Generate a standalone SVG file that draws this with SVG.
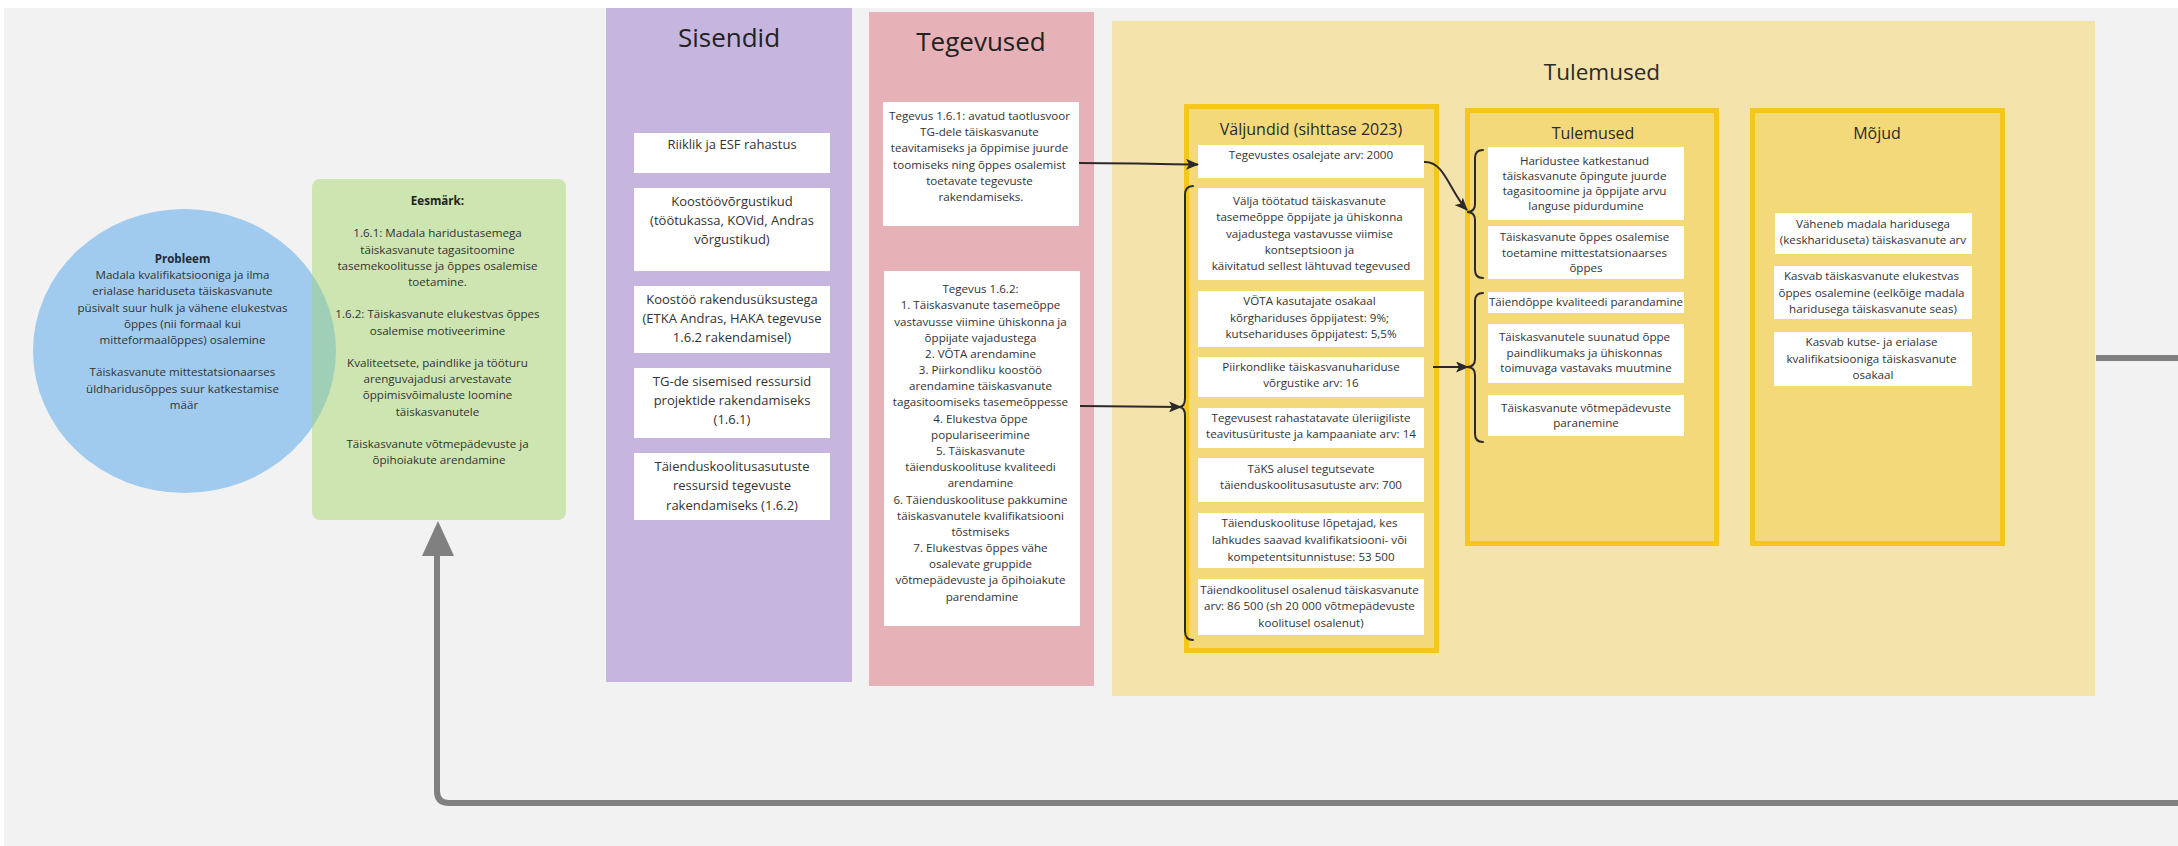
<svg xmlns="http://www.w3.org/2000/svg" width="2178" height="846" viewBox="0 0 2178 846">
  <style>
    text { font-family: "Open Sans", "Noto Sans", "Liberation Sans", sans-serif; fill: #333333; text-anchor: middle; }
    .t { font-size: 11.6px; }
    .s { font-size: 13px; }
    .h1 { font-size: 26px; fill: #222222; }
    .h2 { font-size: 16px; fill: #2a2a2a; }
    .h3 { font-size: 22.5px; fill: #2a2a2a; }
    .b { font-weight: bold; }
    .box { fill: #ffffff; }
    .col { fill: #f4d97b; stroke: #f5c71e; stroke-width: 5; }
    .link { fill: none; stroke: #2a2a2a; stroke-width: 2; }
    .brace { fill: none; stroke: #2a2a2a; stroke-width: 2; stroke-linecap: round; }
    .loop { fill: none; stroke: #808080; stroke-width: 6; }
  </style>
  <defs>
    <marker id="arrow" markerUnits="userSpaceOnUse" markerWidth="13" markerHeight="11" refX="12" refY="5.5" orient="auto">
      <path d="M0,0 L13,5.5 L0,11 L3,5.5 Z" fill="#2a2a2a"/>
    </marker>
    <clipPath id="goalClip">
      <rect x="312" y="179" width="254" height="341" rx="8"/>
    </clipPath>
  </defs>

  <!-- canvas -->
  <rect x="0" y="0" width="2178" height="846" fill="#ffffff"/>
  <rect x="4" y="8" width="2174" height="838" fill="#f2f2f2"/>

  <!-- problem -->
  <g id="problem">
    <ellipse cx="184.5" cy="351" rx="151.5" ry="142" fill="#a0cbee"/>
    <text class="t" x="184" y="263"><tspan class="b" fill="#1f2a36">Probleem</tspan>
      <tspan x="184" dy="16.2">Madala kvalifikatsiooniga ja ilma</tspan>
      <tspan x="184" dy="16.2">erialase hariduseta täiskasvanute</tspan>
      <tspan x="184" dy="16.2">püsivalt suur hulk ja vähene elukestvas</tspan>
      <tspan x="184" dy="16.2">õppes (nii formaal kui</tspan>
      <tspan x="184" dy="16.2">mitteformaalõppes) osalemine</tspan>
      <tspan x="184" dy="32.4">Täiskasvanute mittestatsionaarses</tspan>
      <tspan x="184" dy="16.2">üldharidusõppes suur katkestamise</tspan>
      <tspan x="184" dy="16.2">määr</tspan>
    </text>
  </g>

  <!-- goal -->
  <g id="goal">
    <rect x="312" y="179" width="254" height="341" rx="8" fill="#cde5b0"/>
    <ellipse cx="184.5" cy="351" rx="151.5" ry="142" fill="#9fd0b7" clip-path="url(#goalClip)"/>
    <text class="t" x="439" y="205"><tspan class="b" fill="#222222">Eesmärk:</tspan>
      <tspan x="439" dy="32.4">1.6.1: Madala haridustasemega</tspan>
      <tspan x="439" dy="16.2">täiskasvanute tagasitoomine</tspan>
      <tspan x="439" dy="16.2">tasemekoolitusse ja õppes osalemise</tspan>
      <tspan x="439" dy="16.2">toetamine.</tspan>
      <tspan x="439" dy="32.4">1.6.2: Täiskasvanute elukestvas õppes</tspan>
      <tspan x="439" dy="16.2">osalemise motiveerimine</tspan>
      <tspan x="439" dy="32.4">Kvaliteetsete, paindlike ja tööturu</tspan>
      <tspan x="439" dy="16.2">arenguvajadusi arvestavate</tspan>
      <tspan x="439" dy="16.2">õppimisvõimaluste loomine</tspan>
      <tspan x="439" dy="16.2">täiskasvanutele</tspan>
      <tspan x="439" dy="32.4">Täiskasvanute võtmepädevuste ja</tspan>
      <tspan x="439" dy="16.2">õpihoiakute arendamine</tspan>
    </text>
  </g>

  <!-- inputs -->
  <g id="inputs">
    <rect x="606" y="8" width="246" height="674" fill="#c6b6df"/>
    <text class="h1" x="729" y="47">Sisendid</text>
    <rect class="box" x="634" y="133" width="196" height="40"/>
    <text class="s" x="732" y="148.5">Riiklik ja ESF rahastus</text>
    <rect class="box" x="634" y="188" width="196" height="83"/>
    <text class="s" x="732" y="205.5">Koostöövõrgustikud<tspan x="732" dy="19.3">(töötukassa, KOVid, Andras</tspan><tspan x="732" dy="19.3">võrgustikud)</tspan></text>
    <rect class="box" x="634" y="286" width="196" height="67"/>
    <text class="s" x="732" y="303.5">Koostöö rakendusüksustega<tspan x="732" dy="19.3">(ETKA Andras, HAKA tegevuse</tspan><tspan x="732" dy="19.3">1.6.2 rakendamisel)</tspan></text>
    <rect class="box" x="634" y="368" width="196" height="70"/>
    <text class="s" x="732" y="385.5">TG-de sisemised ressursid<tspan x="732" dy="19.3">projektide rakendamiseks</tspan><tspan x="732" dy="19.3">(1.6.1)</tspan></text>
    <rect class="box" x="634" y="453" width="196" height="67"/>
    <text class="s" x="732" y="471">Täienduskoolitusasutuste<tspan x="732" dy="19.3">ressursid tegevuste</tspan><tspan x="732" dy="19.3">rakendamiseks (1.6.2)</tspan></text>
  </g>

  <!-- activities -->
  <g id="activities">
    <rect x="869" y="12" width="225" height="674" fill="#e6b2b7"/>
    <text class="h1" x="981" y="50.5">Tegevused</text>
    <rect class="box" x="883" y="102" width="196" height="124"/>
    <text class="t" x="981" y="120">Tegevus 1.6.1: avatud taotlusvoor
      <tspan x="981" dy="16.2">TG-dele täiskasvanute</tspan>
      <tspan x="981" dy="16.2">teavitamiseks ja õppimise juurde</tspan>
      <tspan x="981" dy="16.2">toomiseks ning õppes osalemist</tspan>
      <tspan x="981" dy="16.2">toetavate tegevuste</tspan>
      <tspan x="981" dy="16.2">rakendamiseks.</tspan>
    </text>
    <rect class="box" x="884" y="271" width="196" height="355"/>
    <text class="t" x="982" y="293.3">Tegevus 1.6.2:
      <tspan x="982" dy="16.17">1. Täiskasvanute tasemeõppe</tspan>
      <tspan x="982" dy="16.17">vastavusse viimine ühiskonna ja</tspan>
      <tspan x="982" dy="16.17">õppijate vajadustega</tspan>
      <tspan x="982" dy="16.17">2. VÕTA arendamine</tspan>
      <tspan x="982" dy="16.17">3. Piirkondliku koostöö</tspan>
      <tspan x="982" dy="16.17">arendamine täiskasvanute</tspan>
      <tspan x="982" dy="16.17">tagasitoomiseks tasemeõppesse</tspan>
      <tspan x="982" dy="16.17">4. Elukestva õppe</tspan>
      <tspan x="982" dy="16.17">populariseerimine</tspan>
      <tspan x="982" dy="16.17">5. Täiskasvanute</tspan>
      <tspan x="982" dy="16.17">täienduskoolituse kvaliteedi</tspan>
      <tspan x="982" dy="16.17">arendamine</tspan>
      <tspan x="982" dy="16.17">6. Täienduskoolituse pakkumine</tspan>
      <tspan x="982" dy="16.17">täiskasvanutele kvalifikatsiooni</tspan>
      <tspan x="982" dy="16.17">tõstmiseks</tspan>
      <tspan x="982" dy="16.17">7. Elukestvas õppes vähe</tspan>
      <tspan x="982" dy="16.17">osalevate gruppide</tspan>
      <tspan x="982" dy="16.17">võtmepädevuste ja õpihoiakute</tspan>
      <tspan x="982" dy="16.17">parendamine</tspan>
    </text>
  </g>

  <!-- results panel -->
  <g id="results-panel">
    <rect x="1112" y="21" width="983" height="675" fill="#f5e3ac"/>
    <text class="h3" x="1602" y="80">Tulemused</text>
  </g>

  <!-- outputs -->
  <g id="outputs">
    <rect class="col" x="1186.5" y="106.5" width="250" height="544"/>
    <text class="h2" x="1311" y="134.5">Väljundid (sihttase 2023)</text>
    <rect class="box" x="1198" y="145" width="226" height="33"/>
    <text class="t" x="1311" y="159">Tegevustes osalejate arv: 2000</text>
    <rect class="box" x="1198" y="188" width="226" height="92"/>
    <text class="t" x="1311" y="205">Välja töötatud täiskasvanute
      <tspan x="1311" dy="16.25">tasemeõppe õppijate ja ühiskonna</tspan>
      <tspan x="1311" dy="16.25">vajadustega vastavusse viimise</tspan>
      <tspan x="1311" dy="16.25">kontseptsioon ja</tspan>
      <tspan x="1311" dy="16.25">käivitatud sellest lähtuvad tegevused</tspan>
    </text>
    <rect class="box" x="1198" y="291" width="226" height="56"/>
    <text class="t" x="1311" y="305">VÕTA kasutajate osakaal
      <tspan x="1311" dy="16.5">kõrghariduses õppijatest: 9%;</tspan>
      <tspan x="1311" dy="16.5">kutsehariduses õppijatest: 5,5%</tspan>
    </text>
    <rect class="box" x="1198" y="357" width="226" height="40"/>
    <text class="t" x="1311" y="370.7">Piirkondlike täiskasvanuhariduse<tspan x="1311" dy="16.6">võrgustike arv: 16</tspan></text>
    <rect class="box" x="1198" y="408" width="226" height="40"/>
    <text class="t" x="1311" y="421.7">Tegevusest rahastatavate üleriigiliste<tspan x="1311" dy="16.3">teavitusürituste ja kampaaniate arv: 14</tspan></text>
    <rect class="box" x="1198" y="458" width="226" height="44"/>
    <text class="t" x="1311" y="473">TäKS alusel tegutsevate<tspan x="1311" dy="16">täienduskoolitusasutuste arv: 700</tspan></text>
    <rect class="box" x="1198" y="513" width="226" height="55"/>
    <text class="t" x="1311" y="527.3">Täienduskoolituse lõpetajad, kes
      <tspan x="1311" dy="16.6">lahkudes saavad kvalifikatsiooni- või</tspan>
      <tspan x="1311" dy="16.6">kompetentsitunnistuse: 53 500</tspan>
    </text>
    <rect class="box" x="1198" y="579" width="226" height="56"/>
    <text class="t" x="1311" y="594">Täiendkoolitusel osalenud täiskasvanute
      <tspan x="1311" dy="16.4">arv: 86 500 (sh 20 000 võtmepädevuste</tspan>
      <tspan x="1311" dy="16.4">koolitusel osalenut)</tspan>
    </text>
  </g>

  <!-- outcomes -->
  <g id="outcomes">
    <rect class="col" x="1467.5" y="110.5" width="249" height="433"/>
    <text class="h2" x="1593" y="138.5">Tulemused</text>
    <rect class="box" x="1488" y="147" width="196" height="73"/>
    <text class="t" x="1586" y="164.7">Haridustee katkestanud
      <tspan x="1586" dy="15.2">täiskasvanute õpingute juurde</tspan>
      <tspan x="1586" dy="15.2">tagasitoomine ja õppijate arvu</tspan>
      <tspan x="1586" dy="15.2">languse pidurdumine</tspan>
    </text>
    <rect class="box" x="1488" y="226" width="196" height="53"/>
    <text class="t" x="1586" y="241.3">Täiskasvanute õppes osalemise
      <tspan x="1586" dy="15.3">toetamine mittestatsionaarses</tspan>
      <tspan x="1586" dy="15.3">õppes</tspan>
    </text>
    <rect class="box" x="1488" y="292" width="196" height="21"/>
    <text class="t" x="1586" y="306">Täiendõppe kvaliteedi parandamine</text>
    <rect class="box" x="1488" y="324" width="196" height="59"/>
    <text class="t" x="1586" y="341.3">Täiskasvanutele suunatud õppe
      <tspan x="1586" dy="15.3">paindlikumaks ja ühiskonnas</tspan>
      <tspan x="1586" dy="15.3">toimuvaga vastavaks muutmine</tspan>
    </text>
    <rect class="box" x="1488" y="395" width="196" height="41"/>
    <text class="t" x="1586" y="412.3">Täiskasvanute võtmepädevuste<tspan x="1586" dy="14.5">paranemine</tspan></text>
  </g>

  <!-- impacts -->
  <g id="impacts">
    <rect class="col" x="1752.5" y="110.5" width="250" height="433"/>
    <text class="h2" x="1877" y="138.5">Mõjud</text>
    <rect class="box" x="1775" y="213" width="197" height="41"/>
    <text class="t" x="1873" y="228">Väheneb madala haridusega<tspan x="1873" dy="16">(keskhariduseta) täiskasvanute arv</tspan></text>
    <rect class="box" x="1774" y="266" width="198" height="53"/>
    <text class="t" x="1873" y="280">Kasvab täiskasvanute elukestvas
      <tspan x="1873" dy="16.5">õppes osalemine (eelkõige madala</tspan>
      <tspan x="1873" dy="16.5">haridusega täiskasvanute seas)</tspan>
    </text>
    <rect class="box" x="1774" y="332" width="198" height="54"/>
    <text class="t" x="1873" y="346.3">Kasvab kutse- ja erialase
      <tspan x="1873" dy="16.4">kvalifikatsiooniga täiskasvanute</tspan>
      <tspan x="1873" dy="16.4">osakaal</tspan>
    </text>
  </g>

  <!-- links, braces and the feedback loop back to the goal -->
  <g id="connectors">
    <path class="loop" d="M2178,803 L449,803 Q437,803 437,791 L437,550"/>
    <polygon points="422,556 438,521 454,556" fill="#808080"/>
    <path class="loop" d="M2096,358 L2178,358"/>

    <path class="link" d="M1079,163 C1120,163 1160,164 1198,164.5" marker-end="url(#arrow)"/>
    <path class="link" d="M1080,406 L1181,407" marker-end="url(#arrow)"/>
    <path class="link" d="M1424,162 C1444,160 1450,192 1467,210" marker-end="url(#arrow)"/>
    <path class="link" d="M1433,367 L1468,367" marker-end="url(#arrow)"/>

    <path class="brace" d="M1193,186 Q1185,186 1185,195 L1185,398 Q1185,407 1179,407 Q1185,407 1185,416 L1185,631 Q1185,640 1193,640"/>
    <path class="brace" d="M1483,150 Q1475,150 1475,158 L1475,204 Q1475,212 1467,212 Q1475,212 1475,220 L1475,270 Q1475,278 1483,278"/>
    <path class="brace" d="M1483,293 Q1475,293 1475,301 L1475,359 Q1475,367 1467,367 Q1475,367 1475,375 L1475,434 Q1475,442 1483,442"/>
  </g>
</svg>
